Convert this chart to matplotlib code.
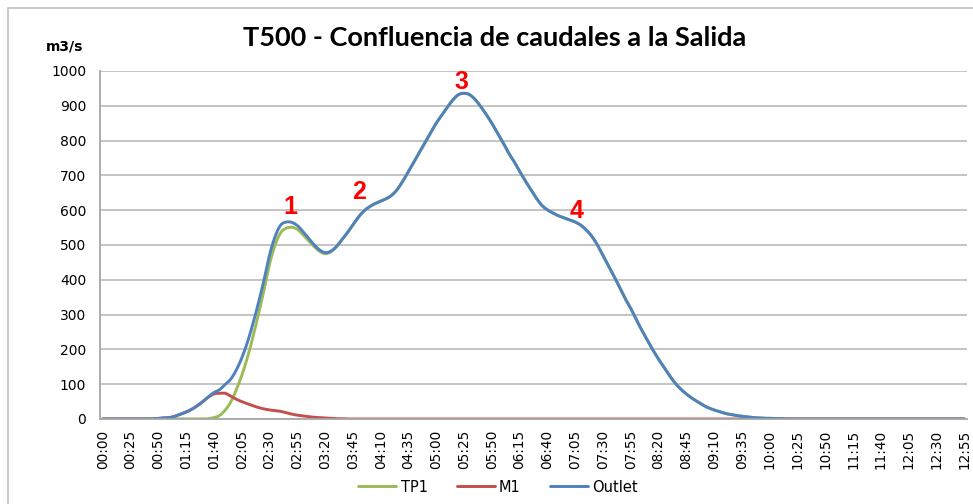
import matplotlib
matplotlib.use('Agg')
import matplotlib.pyplot as plt
from matplotlib.patches import Rectangle
import numpy as np

# caudales cada 5 minutos (m3/s)
m1 = ([0] * 10 +
      [2, 3, 4, 8, 14, 20, 28, 38, 50, 63,
       72, 74, 74, 66, 57, 50, 44, 38, 33, 29,
       26, 24, 22, 18, 14, 11, 9, 7, 5, 4,
       3, 2, 1, 1] +
      [0] * 112)

tp1 = ([0] * 19 +
       [1, 4, 10, 25, 48, 83, 125, 175, 235, 300,
        370, 445, 500, 535, 548, 551, 545, 530, 513, 496,
        482, 475, 480, 494, 514, 535, 558, 580, 598, 610,
        619, 626, 633, 643, 660, 684, 711, 739, 767, 795,
        823, 850, 873, 896, 917, 932, 936, 932, 918, 898,
        875, 850, 822, 795, 765, 740, 712, 685, 660, 635,
        614, 601, 592, 584, 578, 572, 566, 557, 543, 525,
        500, 470, 440, 410, 378, 346, 318, 285, 255, 226,
        198, 172, 148, 124, 103, 86, 72, 60, 50, 40,
        32, 26, 21, 16, 13, 10, 8, 6, 4, 3,
        2, 2, 1, 1] +
       [0] * 33)

outlet = ([0] * 10 +
          [2, 3, 4, 8, 14, 20, 28, 38, 50, 64,
           76, 84, 99, 114, 140, 175, 219, 273, 333, 399,
           471, 524, 557, 566, 565, 556, 539, 520, 501, 486,
           478, 482, 495, 515, 535, 558, 580, 598, 610, 619,
           626, 633, 643, 660, 684, 711, 739, 767, 795, 823,
           850, 873, 896, 917, 932, 936, 932, 918, 898, 875,
           850, 822, 795, 765, 740, 712, 685, 660, 635, 614,
           601, 592, 584, 578, 572, 566, 557, 543, 525, 500,
           470, 440, 410, 378, 346, 318, 285, 255, 226, 198,
           172, 148, 124, 103, 86, 72, 60, 50, 40, 32,
           26, 21, 16, 13, 10, 8, 6, 4, 3, 2,
           2, 1, 1] +
          [0] * 33)

# etiquetas de tiempo (una cada 25 min)
tick_labels = ['00:00', '00:25', '00:50', '01:15', '01:40', '02:05', '02:30', '02:55',
               '03:20', '03:45', '04:10', '04:35', '05:00', '05:25', '05:50', '06:15',
               '06:40', '07:05', '07:30', '07:55', '08:20', '08:45', '09:10', '09:35',
               '10:00', '10:25', '10:50', '11:15', '11:40', '12:05', '12:30', '12:55']

# puntos señalados en el hidrograma
mark_names = ['1', '2', '3', '4']
mark_x = [33.7, 46.2, 64.6, 85.3]
mark_y = [608, 652, 968, 598]


def smooth(y, n=8):
    # curva suavizada tipo Excel (Catmull-Rom) que pasa por los puntos
    y = np.asarray(y, dtype=float)
    p = np.concatenate([[y[0]], y, [y[-1]]])
    xs, ys = [], []
    t = np.linspace(0, 1, n, endpoint=False)
    for i in range(len(y) - 1):
        p0, p1, p2, p3 = p[i], p[i + 1], p[i + 2], p[i + 3]
        seg = 0.5 * (2 * p1 + (-p0 + p2) * t + (2 * p0 - 5 * p1 + 4 * p2 - p3) * t ** 2
                     + (-p0 + 3 * p1 - 3 * p2 + p3) * t ** 3)
        xs.extend(i + t)
        ys.extend(seg)
    xs.append(len(y) - 1)
    ys.append(y[-1])
    return np.array(xs), np.clip(np.array(ys), 0, None)


W, H = 973, 504
fig = plt.figure(figsize=(W / 100, H / 100), dpi=100)
ax = fig.add_axes([100 / W, 1 - 419 / H, 867 / W, 348 / H])

for serie, color, name in [(tp1, '#9BBB59', 'TP1'), (m1, '#C0504D', 'M1'),
                           (outlet, '#4F81BD', 'Outlet')]:
    sx, sy = smooth(serie)
    ax.plot(sx, sy, color=color, lw=2.1, label=name, solid_capstyle='round')

ax.set_xlim(-0.5, len(outlet) - 0.5)
ax.set_ylim(0, 1000)
ax.set_yticks(range(0, 1001, 100))
ax.set_xticks(range(0, len(outlet), 5))
ax.set_xticklabels(tick_labels, rotation=90, fontsize=9.8, family='DejaVu Sans')
ax.tick_params(axis='y', labelsize=10, length=0, pad=10)
ax.tick_params(axis='x', length=0, pad=8)
ax.grid(axis='y', color='#BFBFBF', lw=1.3)
ax.set_axisbelow(True)
for s in ['top', 'right']:
    ax.spines[s].set_visible(False)
ax.spines['left'].set_color('#A6A6A6')
ax.spines['bottom'].set_color('#A6A6A6')
ax.spines['left'].set_linewidth(1.3)
ax.spines['bottom'].set_linewidth(1.3)

for name, mx, my in zip(mark_names, mark_x, mark_y):
    ax.text(mx, my, name, color='red', fontsize=18, fontweight='bold',
            family=['Liberation Sans Narrow', 'Liberation Sans'], ha='center', va='center')

fig.text(495 / W, 1 - 38 / H, 'T500 - Confluencia de caudales a la Salida',
         ha='center', va='center', fontsize=19.5, fontweight='bold', family='Lato')
fig.text(65 / W, 1 - 46 / H, 'm3/s', ha='center', va='center', fontsize=10,
         fontweight='bold', family='DejaVu Sans')

fig.legend(loc='center', bbox_to_anchor=(498 / W, 1 - 487 / H), ncol=3, frameon=False,
           fontsize=10.5, handlelength=2.6, columnspacing=2.0, handletextpad=0.3)

# borde del área del gráfico (recortado a la derecha y abajo)
fig.patches.append(Rectangle((8 / W, -0.1), 1.2, 1 - 8 / H + 0.1, transform=fig.transFigure,
                             fill=False, edgecolor='#BFBFBF', lw=1.2))

fig.savefig('out.png', dpi=100)
